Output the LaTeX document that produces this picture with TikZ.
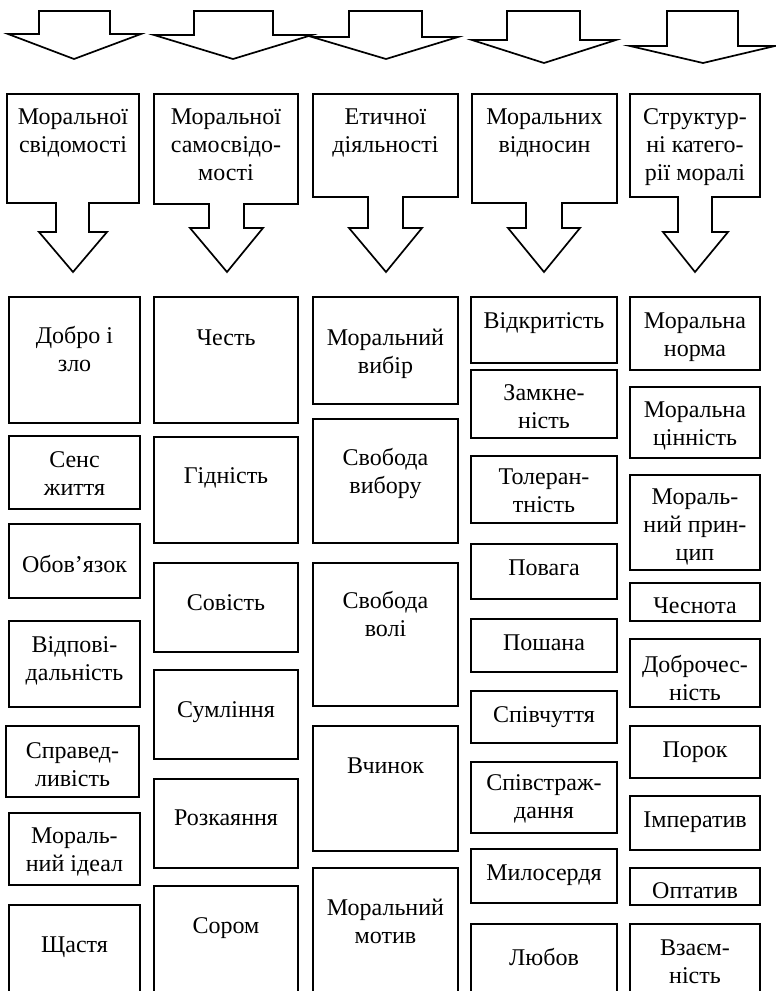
\documentclass[tikz,border=0pt]{standalone}
\usepackage{fontspec}
\setmainfont{Liberation Serif}
\usetikzlibrary{fit}
\newcommand\stk[1]{\vtop{\baselineskip=28pt\halign{\hfil##\hfil\cr#1\crcr}}}
% top block arrow: sx1 sx2 hy hx1 hx2 tipx tipy
\newcommand\toparrow[7]{\draw[shapeline] (#1,11) -- (#2,11) -- (#2,#3) -- (#5,#3) -- (#6,#7) -- (#4,#3) -- (#1,#3) -- cycle;}
% header box with arrow: x1 x2 by sx1 sx2 hy hx1 hx2 tipx
\newcommand\headbox[9]{\draw[shapeline] (#1,94) -- (#2,94) -- (#2,#3) -- (#5,#3) -- (#5,#6) -- (#8,#6) -- (#9,272) -- (#7,#6) -- (#4,#6) -- (#4,#3) -- (#1,#3) -- cycle;}
% cell: name x1 y1 x2 y2 baseline text
\newcommand\mycell[7]{%
  \node[cellbox, fit={(#2,#3) (#4,#5)}] (#1) {};
  \node[celltext] (#1t) at ({(#2+#4)/2},#6) {\stk{#7}};}
\begin{document}
\begin{tikzpicture}[x=1pt,y=-1pt,
  shapeline/.style={line width=1.7pt, line join=miter},
  cellbox/.style={draw, line width=1.9pt, inner sep=0pt},
  celltext/.style={anchor=base, inner sep=0pt, font=\fontsize{24}{28}\selectfont}]
\useasboundingbox (0,0) rectangle (776,991);
\clip (0,0) rectangle (776,991);
\fill[white] (0,0) rectangle (776,991);

% top arrows
\toparrow{39}{110}{34}{8}{141}{74}{59}
\toparrow{194}{273}{35}{154}{312}{233}{59}
\toparrow{349}{422}{37}{312}{458}{386}{59}
\toparrow{507}{580}{40}{472}{616}{544}{63}
\toparrow{667}{738}{46}{630}{775}{703}{63}

% header boxes with arrows
\headbox{7}{139}{203}{56}{89}{232}{39}{107}{73}
\headbox{154}{298}{204}{209}{244}{228}{190}{263}{227}
\headbox{313}{458}{197}{368}{403}{228}{349}{422}{386}
\headbox{472}{617}{203}{526}{562}{228}{508}{580}{544}
\headbox{630}{760}{197}{678}{712}{232}{663}{728}{695}
\node[celltext] (h1) at (73,124) {\stk{Моральної\cr свідомості}};
\node[celltext] (h2) at (226,124) {\stk{Моральної\cr самосвідо-\cr мості}};
\node[celltext] (h3) at (385.5,124) {\stk{Етичної\cr діяльності}};
\node[celltext] (h4) at (544.5,124) {\stk{Моральних\cr відносин}};
\node[celltext] (h5) at (695,124) {\stk{Структур-\cr ні катего-\cr рії моралі}};

% column 1
\mycell{a1}{9}{297}{140}{423}{343}{Добро і\cr зло}
\mycell{a2}{9}{436}{140}{509}{467}{Сенс\cr життя}
\mycell{a3}{9}{524}{140}{598}{572}{Обов’язок}
\mycell{a4}{9}{621}{140}{707}{652}{Відпові-\cr дальність}
\mycell{a5}{6}{726}{139}{797}{758}{Справед-\cr ливість}
\mycell{a6}{9}{813}{140}{885}{843}{Мораль-\cr ний ідеал}
\mycell{a7}{9}{905}{140}{1010}{952}{Щастя}

% column 2
\mycell{b1}{154}{297}{298}{423}{345}{Честь}
\mycell{b2}{154}{437}{298}{543}{483}{Гідність}
\mycell{b3}{154}{563}{298}{652}{610}{Совість}
\mycell{b4}{154}{670}{298}{759}{717}{Сумління}
\mycell{b5}{154}{779}{298}{868}{825}{Розкаяння}
\mycell{b6}{154}{886}{298}{1010}{933}{Сором}

% column 3
\mycell{c1}{313}{297}{458}{404}{345}{Моральний\cr вибір}
\mycell{c2}{313}{419}{458}{543}{465}{Свобода\cr вибору}
\mycell{c3}{313}{563}{458}{706}{608}{Свобода\cr волі}
\mycell{c4}{313}{726}{458}{851}{773}{Вчинок}
\mycell{c5}{313}{868}{458}{1010}{915}{Моральний\cr мотив}

% column 4
\mycell{d1}{471}{297}{617}{363}{328}{Відкритість}
\mycell{d2}{471}{370}{617}{438}{400}{Замкне-\cr ність}
\mycell{d3}{471}{456}{617}{523}{484}{Толеран-\cr тність}
\mycell{d4}{471}{544}{617}{599}{575}{Повага}
\mycell{d5}{471}{619}{617}{672}{650}{Пошана}
\mycell{d6}{471}{691}{617}{743}{722}{Співчуття}
\mycell{d7}{471}{762}{617}{833}{790}{Співстраж-\cr дання}
\mycell{d8}{471}{849}{617}{903}{880}{Милосердя}
\mycell{d9}{471}{924}{617}{1010}{965}{Любов}

% column 5
\mycell{e1}{630}{297}{760}{370}{328}{Моральна\cr норма}
\mycell{e2}{630}{387}{760}{458}{417}{Моральна\cr цінність}
\mycell{e3}{630}{475}{760}{570}{504}{Мораль-\cr ний прин-\cr цип}
\mycell{e4}{630}{583}{760}{621}{613}{Чеснота}
\mycell{e5}{630}{639}{760}{707}{672}{Доброчес-\cr ність}
\mycell{e6}{630}{726}{760}{778}{757}{Порок}
\mycell{e7}{630}{796}{760}{850}{827}{Імператив}
\mycell{e8}{630}{868}{760}{905}{898}{Оптатив}
\mycell{e9}{630}{924}{760}{1010}{955}{Взаєм-\cr ність}
\end{tikzpicture}
\end{document}
